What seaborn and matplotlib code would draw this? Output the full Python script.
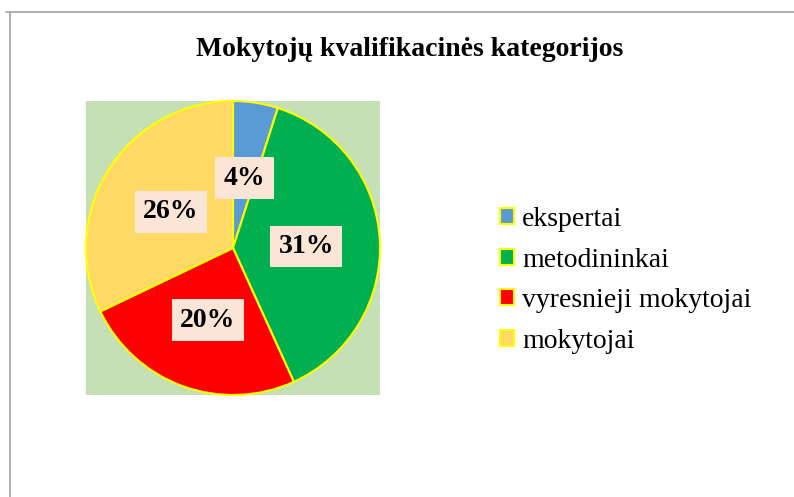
import matplotlib
matplotlib.use("Agg")
import matplotlib.pyplot as plt
from matplotlib.lines import Line2D
import seaborn as sns

categories = ["ekspertai", "metodininkai", "vyresnieji mokytojai", "mokytojai"]
values = [4, 31, 20, 26]
colors = ["#5B9BD5", "#00B050", "#FF0000", "#FFD966"]
title = "Mokytojų kvalifikacinės kategorijos"

sns.set_theme(style="white")
plt.rcParams["font.family"] = ["Liberation Serif", "DejaVu Serif"]
plt.rcParams["text.color"] = "black"

W, H = 794, 497
fig = plt.figure(figsize=(W / 100, H / 100), dpi=100)
fig.patch.set_facecolor("white")

ax = fig.add_axes([86 / W, 1 - 395 / H, 294 / W, 294 / H])

total = sum(values)
palette = sns.color_palette(colors)
wedges, _, autotexts = ax.pie(
    values,
    colors=palette,
    startangle=90,
    counterclock=False,
    radius=1.0,
    autopct=lambda p: f"{round(p * total / 100)}%",
    pctdistance=0.5,
    wedgeprops=dict(edgecolor="#FFFF00", linewidth=1.5),
    textprops=dict(fontsize=20, fontweight="bold", color="black"),
)
for t in autotexts:
    x, y = t.get_position()
    t.set_position((x, y - 0.02))
    t.set_bbox(dict(facecolor="#FBE5D6", edgecolor="none", boxstyle="square,pad=0.3"))
ax.set_frame_on(True)
ax.set_facecolor("#C5E0B4")
for s in ax.spines.values():
    s.set_visible(False)
ax.set_xlim(-1.0, 1.0)
ax.set_ylim(-1.0, 1.0)
ax.set_aspect("auto")
ax.set_xticks([])
ax.set_yticks([])

fig.text(410 / W, 1 - 49 / H, title, ha="center", va="center",
         fontsize=20, fontweight="bold", color="black")

leg = fig.legend(
    wedges, categories,
    loc="center left", bbox_to_anchor=(500 / W, 1 - 280.5 / H),
    frameon=False, fontsize=20, handlelength=0.5, handleheight=0.5,
    handletextpad=0.3, labelspacing=0.56, borderpad=0, borderaxespad=0,
    labelcolor="black",
)

fig.add_artist(Line2D([6 / W, 1.0], [1 - 11.5 / H, 1 - 11.5 / H],
                      transform=fig.transFigure, color="#A0A0A0", linewidth=1.2))
fig.add_artist(Line2D([9.5 / W, 9.5 / W], [0, 1 - 11.5 / H],
                      transform=fig.transFigure, color="#A0A0A0", linewidth=1.2))

fig.savefig("out.png", dpi=100)
